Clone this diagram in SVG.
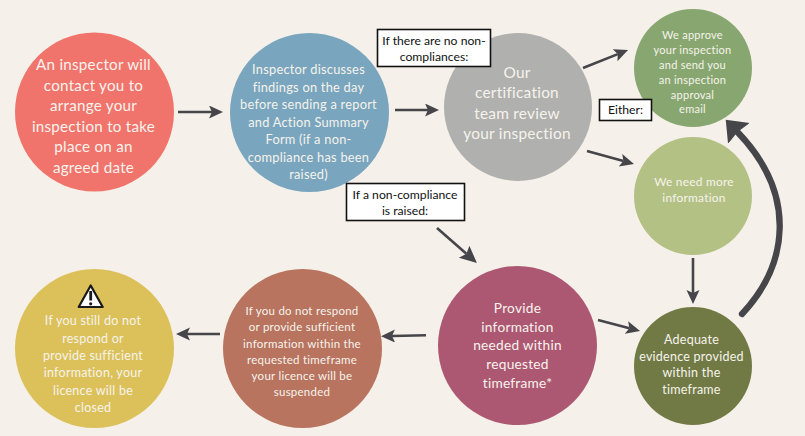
<svg xmlns="http://www.w3.org/2000/svg" width="805" height="436" viewBox="0 0 805 436">
<style>
text{font-family:"Lato","Open Sans","Liberation Sans",sans-serif;text-anchor:middle}
.t{fill:#f6f3ec;letter-spacing:.25px}
.n1{font-size:15.2px}.n2{font-size:12.8px}.n3{font-size:15.4px}.n4{font-size:11px}.n5{font-size:11.9px}.n6{font-size:13.7px}.n7{font-size:12.5px}.n8{font-size:11.5px}.n9{font-size:12.5px}
.b{fill:#fff;stroke:#111;stroke-width:1.6}
.l{font-size:12.2px;fill:#111}
.a{fill:none;stroke:#46464a;stroke-width:2.6;marker-end:url(#h)}
.c{fill:none;stroke:#46464a;stroke-width:2.6;marker-end:url(#h2)}
.big{fill:none;stroke:#46464a;stroke-width:6.3;stroke-linecap:round;marker-end:url(#H)}
</style>
<defs>
<marker id="h" markerUnits="userSpaceOnUse" markerWidth="16" markerHeight="14" refX="3" refY="6.5" orient="auto"><path d="M0,0L14,6.5L0,13L3,6.5z" fill="#46464a"/></marker>
<marker id="h2" markerUnits="userSpaceOnUse" markerWidth="18" markerHeight="18" refX="3" refY="8" orient="auto"><path d="M0,0L17,8L0,16L3,8z" fill="#46464a"/></marker>
<marker id="H" markerUnits="userSpaceOnUse" markerWidth="22" markerHeight="32" refX="2" refY="15" orient="auto"><path d="M0,0L19,15L0,30L2,15z" fill="#46464a"/></marker>
</defs>
<rect width="805" height="436" fill="#f5f1ea"/>
<g id="connectors">
<path class="a" d="M178,112H212"/>
<path class="a" d="M395,110H428"/>
<path class="a" d="M583,68L617.8,54.1"/>
<path class="a" d="M587,151L623.4,161.1"/>
<path class="a" d="M693,258V293"/>
<path class="a" d="M598,320L629.4,328.2"/>
<path class="c" d="M437,228L466.4,253.8"/>
<path class="a" d="M426,335.3L392,336"/>
<path class="a" d="M220,334H187"/>
<path class="big" d="M742,314C788,265 798,195 737.5,132"/>
</g>
<g id="n1"><circle cx="94.5" cy="112" r="79.5" fill="#f1746c"/>
<text class="t n1"><tspan x="93.5" y="70">An inspector will</tspan><tspan x="93.5" y="90.7">contact you to</tspan><tspan x="93.5" y="111">arrange your</tspan><tspan x="93.5" y="131.7">inspection to take</tspan><tspan x="93.5" y="152.3">place on an</tspan><tspan x="93.5" y="172.7">agreed date</tspan></text></g>
<g id="n2"><circle cx="309.5" cy="112.5" r="79.5" fill="#79a5be"/>
<text class="t n2"><tspan x="308.5" y="74.3">Inspector discusses</tspan><tspan x="308.5" y="92">findings on the day</tspan><tspan x="308.5" y="109.3">before sending a report</tspan><tspan x="308.5" y="126.7">and Action Summary</tspan><tspan x="308.5" y="144">Form (if a non-</tspan><tspan x="308.5" y="161.7">compliance has been</tspan><tspan x="308.5" y="179">raised)</tspan></text></g>
<g id="n3"><circle cx="518" cy="107" r="74" fill="#b0b0ae"/>
<text class="t n3"><tspan x="517" y="78">Our</tspan><tspan x="517" y="98.3">certification</tspan><tspan x="517" y="118.7">team review</tspan><tspan x="517" y="139.3">your inspection</tspan></text></g>
<g id="n4"><circle cx="693" cy="68" r="59" fill="#88a770"/>
<text class="t n4"><tspan x="692.5" y="38.7">We approve</tspan><tspan x="692.5" y="53.7">your inspection</tspan><tspan x="692.5" y="68.7">and send you</tspan><tspan x="692.5" y="83.7">an inspection</tspan><tspan x="692.5" y="98.7">approval</tspan><tspan x="692.5" y="113.3">email</tspan></text></g>
<g id="n5"><circle cx="693" cy="196" r="59" fill="#b4c185"/>
<text class="t n5"><tspan x="694" y="186">We need more</tspan><tspan x="694" y="202.3">information</tspan></text></g>
<g id="n6"><circle cx="517.5" cy="345.5" r="79.5" fill="#ad5873"/>
<text class="t n6"><tspan x="517.5" y="313">Provide</tspan><tspan x="517.5" y="331.7">information</tspan><tspan x="517.5" y="350.3">needed within</tspan><tspan x="517.5" y="369.3">requested</tspan><tspan x="517.5" y="388">timeframe*</tspan></text></g>
<g id="n7"><circle cx="693" cy="366" r="59" fill="#717a45"/>
<text class="t n7"><tspan x="691.5" y="344">Adequate</tspan><tspan x="691.5" y="360.7">evidence provided</tspan><tspan x="691.5" y="377.3">within the</tspan><tspan x="691.5" y="394.3">timeframe</tspan></text></g>
<g id="n8"><circle cx="302.5" cy="348.5" r="79.5" fill="#b8745f"/>
<text class="t n8"><tspan x="302" y="315">If you do not respond</tspan><tspan x="302" y="331.3">or provide sufficient</tspan><tspan x="302" y="347.7">information within the</tspan><tspan x="302" y="363.7">requested timeframe</tspan><tspan x="302" y="380">your licence will be</tspan><tspan x="302" y="396">suspended</tspan></text></g>
<g id="n9"><circle cx="94.5" cy="348.5" r="79.5" fill="#dcc15a"/>
<polygon points="90.7,285.5 102.7,307 78.7,307" fill="#fff" stroke="#1a1a1a" stroke-width="2.2" stroke-linejoin="round"/>
<line x1="90.7" y1="291" x2="90.7" y2="300.5" stroke="#1a1a1a" stroke-width="2.8"/><circle cx="90.7" cy="303.8" r="1.6" fill="#1a1a1a"/>
<text class="t n9"><tspan x="93" y="325">If you still do not</tspan><tspan x="93" y="342.7">respond or</tspan><tspan x="93" y="360">provide sufficient</tspan><tspan x="93" y="377.3">information, your</tspan><tspan x="93" y="394.7">licence will be</tspan><tspan x="93" y="412">closed</tspan></text></g>
<g id="box1"><rect class="b" x="377.5" y="29.5" width="113" height="37"/><text class="l"><tspan x="434" y="44.5">If there are no non-</tspan><tspan x="434" y="60.5">compliances:</tspan></text></g>
<g id="box2"><rect class="b" x="599.5" y="99.5" width="52" height="21"/><text class="l"><tspan x="625.5" y="114">Either:</tspan></text></g>
<g id="box3"><rect class="b" x="346.5" y="183.5" width="118" height="37"/><text class="l"><tspan x="405" y="198.5">If a non-compliance</tspan><tspan x="405" y="214.5">is raised:</tspan></text></g>
</svg>
